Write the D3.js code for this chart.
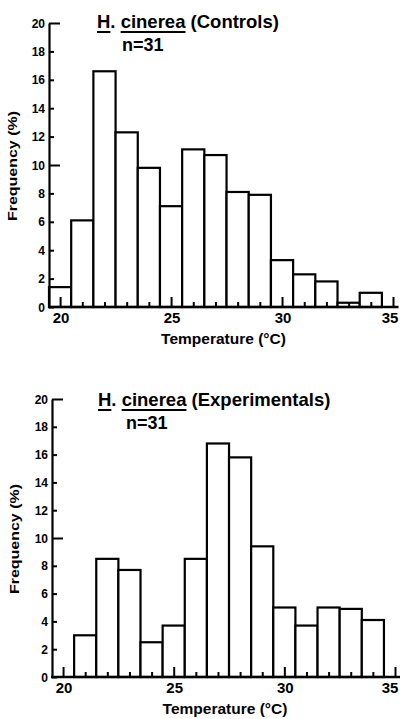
<!DOCTYPE html>
<html>
<head>
<meta charset="utf-8">
<script src="https://cdn.jsdelivr.net/npm/d3@7"></script>
<style>
  html, body { margin: 0; padding: 0; background: #fff; }
  svg { display: block; }
  text { font-family: "Liberation Sans", Arial, sans-serif; font-weight: bold; fill: #000; }
</style>
</head>
<body>
<svg id="chart" width="400" height="719"></svg>
<script>
// ---- data ----
const temperatures = [20, 21, 22, 23, 24, 25, 26, 27, 28, 29, 30, 31, 32, 33, 34];
const controls = [1.4, 6.1, 16.6, 12.3, 9.8, 7.1, 11.1, 10.7, 8.1, 7.9, 3.3, 2.3, 1.8, 0.3, 1.0];
const experimentals = [0, 3.0, 8.5, 7.7, 2.5, 3.7, 8.5, 16.8, 15.8, 9.4, 5.0, 3.7, 5.0, 4.9, 4.1];
const xTickValues = [20, 25, 30, 35];
const yTickValues = [0, 2, 4, 6, 8, 10, 12, 14, 16, 18, 20];
const speciesLabel = "H. cinerea";
const panelLabels = ["(Controls)", "(Experimentals)"];
const sampleLabel = "n=31";
const xTitle = "Temperature (°C)";
const yTitle = "Frequency (%)";

const svg = d3.select("#chart");

function drawPanel(values, group, cfg) {
  const g = svg.append("g");
  const x = d3.scaleLinear().domain([19.5, 35]).range([cfg.x0, cfg.x35]);
  const y = d3.scaleLinear().domain([0, 20]).range([cfg.yBase, cfg.yTop]);

  // bars
  const data = temperatures.map((t, i) => ({ t, v: values[i] })).filter(d => d.v > 0);
  g.selectAll("rect.bar").data(data).join("rect")
    .attr("class", "bar")
    .attr("x", d => x(d.t - 0.5))
    .attr("width", d => x(d.t + 0.5) - x(d.t - 0.5))
    .attr("y", d => y(d.v))
    .attr("height", d => y(0) - y(d.v))
    .attr("fill", "#fff")
    .attr("stroke", "#000")
    .attr("stroke-width", 2.2);

  // y axis
  const yAxis = d3.axisRight(y).tickValues(yTickValues).tickFormat("").tickSize(5).tickSizeOuter(0);
  const ya = g.append("g").attr("transform", `translate(${x(19.5)},0)`).call(yAxis);
  ya.select(".domain").attr("stroke-width", 2.2).attr("stroke", "#000");
  ya.selectAll(".tick line").attr("stroke-width", 2).attr("stroke", "#000")
    .attr("x2", d => (d === 10 || d === 20) ? 11 : 5);
  // y labels
  g.selectAll("text.ylab").data(yTickValues).join("text")
    .attr("class", "ylab")
    .attr("x", x(19.5) - 4)
    .attr("y", d => y(d) + 4.5)
    .attr("text-anchor", "end")
    .attr("font-size", 12)
    .text(d => d);

  // x axis
  const xMinor = d3.range(20, 36);
  const xAxis = d3.axisTop(x).tickValues(xMinor).tickFormat("").tickSize(5).tickSizeOuter(0);
  const xa = g.append("g").attr("transform", `translate(0,${y(0)})`).call(xAxis);
  xa.select(".domain").remove();
  xa.selectAll(".tick line").attr("stroke-width", 2).attr("stroke", "#000")
    .attr("y2", d => (d % 5 === 0) ? -10 : -5);
  g.append("line")
    .attr("x1", x(19.5) - 1).attr("x2", x(35.25))
    .attr("y1", y(0)).attr("y2", y(0))
    .attr("stroke", "#000").attr("stroke-width", 2.5);
  g.selectAll("text.xlab").data(xTickValues).join("text")
    .attr("class", "xlab")
    .attr("x", d => d === 35 ? Math.min(x(d) + 1, 390) : x(d) + 1)
    .attr("y", y(0) + 16)
    .attr("text-anchor", "middle")
    .attr("font-size", 15)
    .text(d => d);

  // axis titles
  g.append("text")
    .attr("x", (cfg.x0 + 350) / 2 + 24)
    .attr("y", y(0) + 37)
    .attr("text-anchor", "middle")
    .attr("font-size", 15.5)
    .text(xTitle);
  g.append("text")
    .attr("transform", `translate(${cfg.yLabX},${cfg.yLabY}) rotate(-90)`)
    .attr("text-anchor", "middle")
    .attr("font-size", 13)
    .attr("textLength", 110)
    .attr("lengthAdjust", "spacingAndGlyphs")
    .text(yTitle);

  // title with underlined species name
  const title = g.append("text")
    .attr("x", cfg.titleX)
    .attr("y", cfg.titleY)
    .attr("font-size", 18.5);
  title.append("tspan").text(speciesLabel);
  title.append("tspan").text(" " + panelLabels[group]);
  const node = title.node();
  const hW = node.getSubStringLength(0, 1);
  const cStart = node.getSubStringLength(0, 3);
  const cW = node.getSubStringLength(3, 7);
  const ul = cfg.titleY + 4;
  g.append("line").attr("x1", cfg.titleX).attr("x2", cfg.titleX + hW)
    .attr("y1", ul).attr("y2", ul).attr("stroke", "#000").attr("stroke-width", 2);
  g.append("line").attr("x1", cfg.titleX + cStart).attr("x2", cfg.titleX + cStart + cW)
    .attr("y1", ul).attr("y2", ul).attr("stroke", "#000").attr("stroke-width", 2);

  g.append("text")
    .attr("x", cfg.nX)
    .attr("y", cfg.titleY + 23)
    .attr("font-size", 18)
    .text(sampleLabel);
}

drawPanel(controls, 0, { x0: 49, x35: 393, yBase: 307, yTop: 23, titleX: 97, titleY: 28, nX: 122, yLabX: 17, yLabY: 166 });
drawPanel(experimentals, 1, { x0: 52, x35: 395, yBase: 677, yTop: 399, titleX: 98, titleY: 406, nX: 126, yLabX: 19, yLabY: 539 });
</script>
</body>
</html>
